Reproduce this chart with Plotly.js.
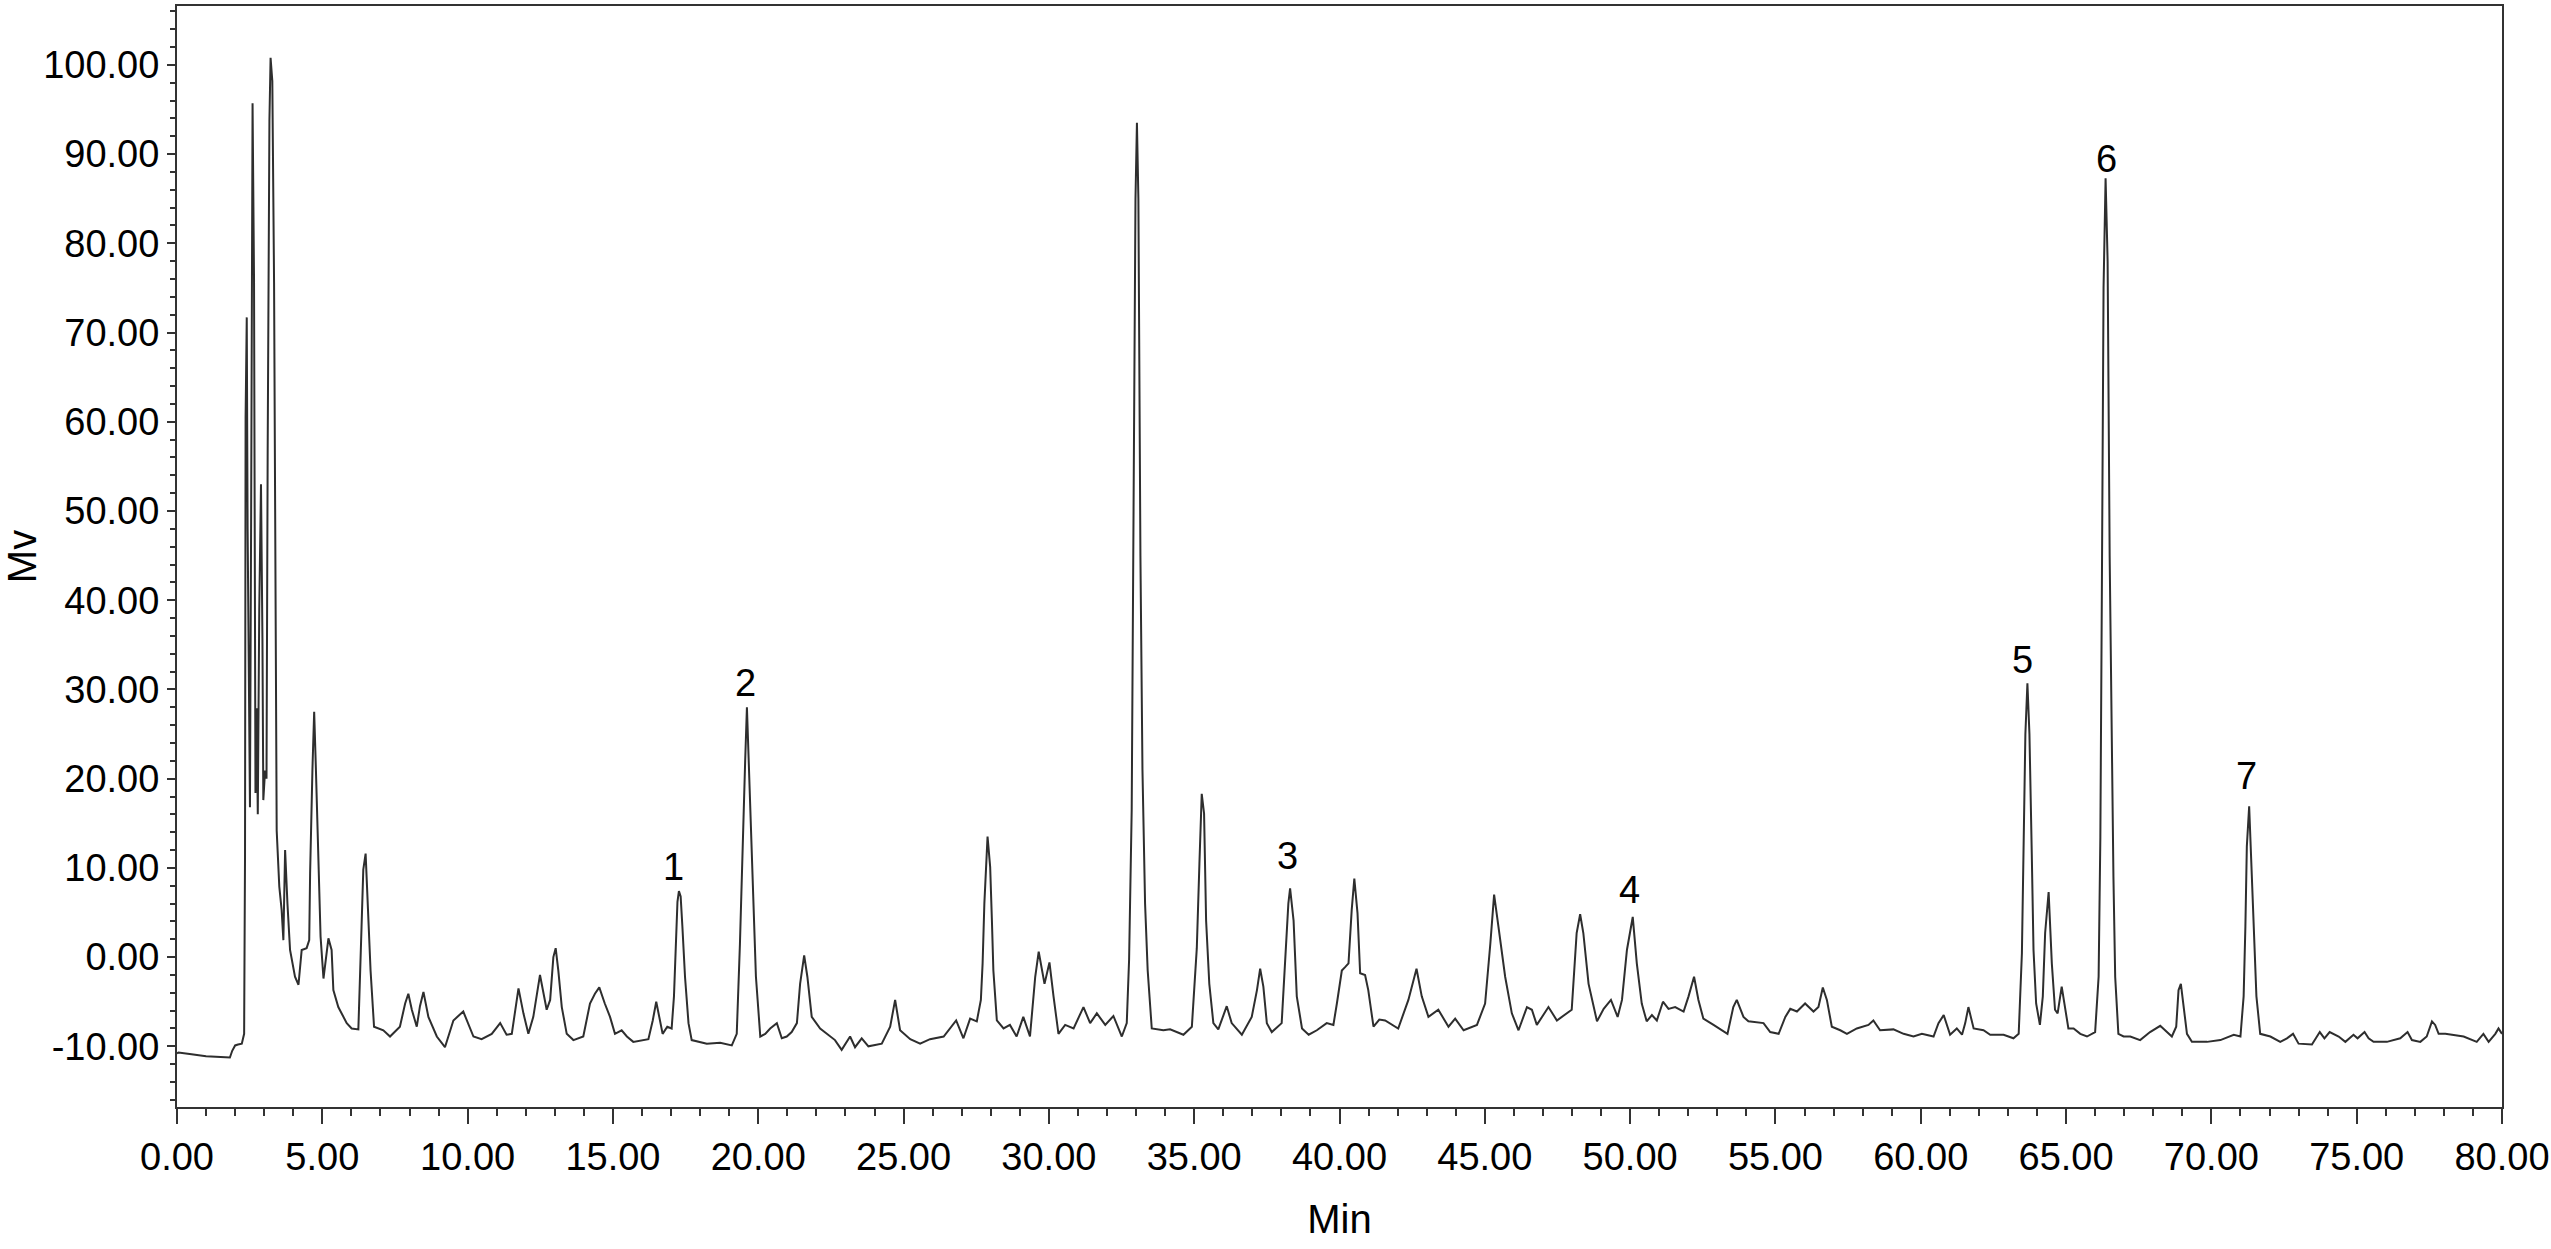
<!DOCTYPE html>
<html>
<head>
<meta charset="utf-8">
<script src="https://cdn.plot.ly/plotly-3.0.1.min.js"></script>
<style>
  html, body { margin: 0; padding: 0; background: #ffffff; }
  #chart { width: 2551px; height: 1249px; }
</style>
</head>
<body>
<div id="chart"></div>
<script>
// Retention time (min)
const timeMin = [
  0.00, 0.05, 0.5, 1.0, 1.5, 1.82, 1.9, 2.0, 2.1, 2.23, 2.31, 2.34,
  2.36, 2.40, 2.43, 2.48, 2.51, 2.55, 2.60, 2.65, 2.70, 2.74, 2.78, 2.83,
  2.89, 2.94, 2.97, 3.03, 3.08, 3.12, 3.18, 3.22, 3.28, 3.34, 3.39, 3.43,
  3.52, 3.60, 3.66, 3.72, 3.80, 3.89, 4.06, 4.18, 4.29, 4.46, 4.55, 4.58,
  4.66, 4.72, 4.78, 4.86, 4.94, 5.04, 5.13, 5.21, 5.32, 5.38, 5.55, 5.84,
  6.01, 6.24, 6.35, 6.41, 6.49, 6.58, 6.66, 6.78, 7.10, 7.33, 7.67, 7.85,
  7.96, 8.08, 8.25, 8.36, 8.48, 8.65, 8.94, 9.22, 9.51, 9.85, 10.2, 10.48,
  10.83, 11.12, 11.34, 11.52, 11.65, 11.75, 11.92, 12.09, 12.26, 12.49, 12.72, 12.84,
  12.95, 13.03, 13.12, 13.24, 13.41, 13.64, 13.98, 14.21, 14.38, 14.53, 14.72, 14.9,
  15.07, 15.3, 15.48, 15.7, 16.22, 16.37, 16.49, 16.6, 16.71, 16.87, 17.02, 17.1,
  17.17, 17.22, 17.27, 17.33, 17.39, 17.48, 17.6, 17.71, 18.23, 18.69, 19.09, 19.26,
  19.37, 19.47, 19.55, 19.61, 19.67, 19.74, 19.83, 19.92, 20.07, 20.24, 20.41, 20.64,
  20.81, 20.98, 21.15, 21.33, 21.44, 21.58, 21.69, 21.84, 22.13, 22.36, 22.64, 22.87,
  23.16, 23.33, 23.56, 23.79, 24.25, 24.54, 24.71, 24.88, 25.23, 25.57, 25.91, 26.38,
  26.6, 26.81, 27.06, 27.29, 27.52, 27.66, 27.72, 27.78, 27.89, 27.98, 28.04, 28.09,
  28.21, 28.44, 28.66, 28.89, 29.12, 29.35, 29.53, 29.65, 29.85, 30.02, 30.16, 30.33,
  30.56, 30.85, 31.19, 31.42, 31.65, 31.94, 32.22, 32.51, 32.68, 32.76, 32.85, 32.90,
  32.98, 33.03, 33.08, 33.15, 33.22, 33.31, 33.40, 33.54, 33.94, 34.17, 34.63, 34.92,
  35.09, 35.18, 35.26, 35.34, 35.41, 35.52, 35.66, 35.83, 36.01, 36.12, 36.29, 36.64,
  36.98, 37.16, 37.27, 37.38, 37.5, 37.67, 38.01, 38.13, 38.24, 38.3, 38.42, 38.53,
  38.71, 38.94, 39.22, 39.56, 39.79, 39.91, 40.08, 40.2, 40.31, 40.42, 40.51, 40.62,
  40.71, 40.88, 40.99, 41.17, 41.37, 41.57, 42.02, 42.37, 42.65, 42.83, 43.06, 43.4,
  43.75, 43.98, 44.27, 44.73, 45.01, 45.19, 45.32, 45.47, 45.7, 45.93, 46.16, 46.45,
  46.62, 46.79, 47.19, 47.48, 47.82, 47.99, 48.16, 48.28, 48.39, 48.57, 48.86, 49.09,
  49.34, 49.57, 49.72, 49.89, 50.09, 50.23, 50.4, 50.57, 50.75, 50.92, 51.13, 51.32,
  51.55, 51.84, 52.01, 52.2, 52.35, 52.52, 52.87, 53.15, 53.35, 53.55, 53.67, 53.9,
  54.07, 54.59, 54.82, 55.11, 55.34, 55.51, 55.74, 56.02, 56.31, 56.48, 56.63, 56.77,
  56.94, 57.23, 57.46, 57.8, 58.2, 58.37, 58.6, 59.06, 59.41, 59.75, 60.04, 60.44,
  60.61, 60.79, 61.01, 61.24, 61.42, 61.53, 61.64, 61.82, 62.16, 62.39, 62.85, 63.19,
  63.37, 63.48, 63.54, 63.6, 63.67, 63.74, 63.82, 63.88, 63.97, 64.1, 64.2, 64.28,
  64.4, 64.51, 64.62, 64.71, 64.85, 64.97, 65.08, 65.26, 65.49, 65.72, 66.0, 66.12,
  66.18, 66.23, 66.29, 66.36, 66.43, 66.5, 66.57, 66.63, 66.69, 66.8, 66.98, 67.21,
  67.55, 67.89, 68.24, 68.64, 68.79, 68.87, 68.95, 69.04, 69.16, 69.33, 69.85, 70.31,
  70.77, 71.0, 71.11, 71.17, 71.22, 71.3, 71.37, 71.45, 71.55, 71.68, 72.03, 72.37,
  72.6, 72.81, 73.0, 73.46, 73.73, 73.89, 74.07, 74.38, 74.61, 74.89, 75.03, 75.27,
  75.41, 75.58, 76.04, 76.5, 76.75, 76.9, 77.19, 77.41, 77.59, 77.7, 77.82, 78.05,
  78.68, 79.13, 79.36, 79.54, 79.77, 79.88, 80.0
];

// Detector signal (mV)
const signalMv = [
  -10.8, -10.7, -10.9, -11.1, -11.2, -11.25, -10.5, -9.9, -9.8, -9.7, -8.6, 11.1,
  60.4, 71.7, 48.0, 24.2, 16.8, 48.8, 95.7, 76.0, 18.4, 27.9, 16.0, 39.0,
  53.0, 35.7, 17.6, 20.9, 20.0, 57.0, 93.7, 100.8, 98.2, 75.6, 38.2, 14.2,
  7.9, 5.3, 1.9, 12.0, 6.0, 0.8, -2.2, -3.1, 0.8, 1.0, 1.9, 9.4,
  21.0, 27.5, 21.0, 10.5, 2.3, -2.4, 0.0, 2.1, 0.8, -3.7, -5.6, -7.4,
  -8.0, -8.1, 3.4, 9.8, 11.6, 4.1, -1.5, -7.8, -8.2, -8.9, -7.8, -5.2,
  -4.1, -5.9, -7.8, -5.5, -3.9, -6.7, -8.9, -10.1, -7.1, -6.1, -8.9, -9.2,
  -8.6, -7.4, -8.7, -8.6, -6.0, -3.5, -6.3, -8.6, -6.7, -2.0, -5.9, -4.8,
  0.0, 1.0, -1.5, -5.6, -8.6, -9.3, -8.9, -5.2, -4.1, -3.4, -5.2, -6.7,
  -8.6, -8.2, -8.9, -9.5, -9.2, -7.1, -5.0, -6.7, -8.6, -7.8, -8.0, -4.4,
  1.2, 6.2, 7.4, 6.8, 3.4, -2.2, -7.4, -9.3, -9.7, -9.6, -9.9, -8.6,
  1.5, 13.9, 22.0, 28.0, 22.0, 13.5, 4.9, -2.2, -8.9, -8.6, -8.0, -7.4,
  -9.1, -8.9, -8.4, -7.4, -3.0, 0.2, -2.2, -6.7, -8.0, -8.6, -9.3, -10.4,
  -8.9, -10.1, -9.1, -10.0, -9.7, -7.8, -4.8, -8.2, -9.2, -9.7, -9.2, -8.9,
  -8.0, -7.1, -9.1, -6.9, -7.2, -4.8, -0.7, 6.0, 13.5, 10.1, 4.1, -1.5,
  -7.1, -8.0, -7.6, -8.9, -6.7, -8.9, -2.2, 0.6, -3.0, -0.6, -4.4, -8.6,
  -7.6, -8.0, -5.6, -7.4, -6.3, -7.6, -6.6, -8.9, -7.4, -0.3, 16.5, 40.0,
  85.0, 93.5, 85.0, 45.0, 21.0, 6.0, -1.5, -8.0, -8.2, -8.1, -8.7, -7.8,
  1.0, 10.5, 18.3, 16.1, 4.1, -3.0, -7.4, -8.1, -6.5, -5.5, -7.4, -8.7,
  -6.7, -3.7, -1.3, -3.3, -7.4, -8.4, -7.4, 0.4, 6.0, 7.7, 4.1, -4.4,
  -8.0, -8.7, -8.2, -7.4, -7.6, -5.2, -1.5, -1.1, -0.7, 5.3, 8.8, 4.9,
  -1.8, -2.0, -3.7, -7.8, -7.0, -7.1, -8.0, -4.8, -1.3, -4.4, -6.7, -5.9,
  -7.8, -6.9, -8.2, -7.6, -5.2, 1.5, 7.0, 3.4, -2.2, -6.3, -8.2, -5.6,
  -5.9, -7.6, -5.6, -7.1, -6.3, -5.9, 2.7, 4.8, 2.7, -3.0, -7.2, -5.8,
  -4.8, -6.7, -4.8, 0.8, 4.5, -0.7, -5.2, -7.2, -6.5, -7.1, -5.0, -5.8,
  -5.6, -6.1, -4.4, -2.2, -4.8, -6.9, -7.6, -8.2, -8.6, -5.6, -4.8, -6.7,
  -7.2, -7.4, -8.4, -8.6, -6.7, -5.8, -6.1, -5.2, -6.1, -5.6, -3.4, -4.8,
  -7.8, -8.2, -8.6, -8.0, -7.6, -7.1, -8.2, -8.1, -8.6, -8.9, -8.6, -8.9,
  -7.4, -6.5, -8.7, -8.0, -8.7, -7.4, -5.6, -8.0, -8.2, -8.7, -8.7, -9.1,
  -8.6, 0.4, 12.7, 25.0, 30.7, 25.0, 11.6, 0.8, -5.2, -7.6, -4.4, 2.7,
  7.3, -0.7, -5.9, -6.3, -3.3, -5.9, -8.0, -8.0, -8.6, -8.9, -8.4, -2.2,
  13.5, 40.0, 75.0, 87.3, 78.0, 45.0, 22.0, 9.0, -2.2, -8.6, -8.9, -8.9,
  -9.3, -8.4, -7.7, -8.9, -7.8, -3.7, -3.0, -5.2, -8.6, -9.5, -9.5, -9.3,
  -8.7, -8.9, -4.4, 3.4, 12.4, 16.9, 11.2, 2.7, -4.4, -8.6, -8.9, -9.5,
  -9.1, -8.6, -9.7, -9.8, -8.4, -9.1, -8.4, -8.9, -9.5, -8.7, -9.1, -8.4,
  -9.1, -9.5, -9.5, -9.1, -8.4, -9.3, -9.5, -8.9, -7.2, -7.6, -8.6, -8.6,
  -8.9, -9.5, -8.6, -9.5, -8.6, -8.0, -8.6
];

// Peak labels
const peakLabels = ["1", "2", "3", "4", "5", "6", "7"];
const peakLabelTime = [17.1, 19.55, 38.2, 49.97, 63.5, 66.4, 71.2];
const peakLabelLevel = [10.1, 30.7, 11.3, 7.5, 33.3, 89.5, 20.3];

// Axis ticks
const xTickVals = [0, 5, 10, 15, 20, 25, 30, 35, 40, 45, 50, 55, 60, 65, 70, 75, 80];
const yTickVals = [-10, 0, 10, 20, 30, 40, 50, 60, 70, 80, 90, 100];

const FONT = '"Liberation Sans", Arial, Helvetica, sans-serif';

const trace = {
  x: timeMin,
  y: signalMv,
  type: 'scatter',
  mode: 'lines',
  line: { color: '#2e2e2e', width: 2 },
  hoverinfo: 'skip',
  showlegend: false
};

const annotations = peakLabels.map((t, i) => ({
  x: peakLabelTime[i],
  y: peakLabelLevel[i],
  xref: 'x', yref: 'y',
  text: t,
  showarrow: false,
  xanchor: 'center', yanchor: 'middle',
  font: { family: FONT, size: 38, color: '#000000' }
}));

const layout = {
  width: 2551,
  height: 1249,
  paper_bgcolor: '#ffffff',
  plot_bgcolor: '#ffffff',
  margin: { l: 177, r: 49, t: 6, b: 142, pad: 0 },
  font: { family: FONT, color: '#000000' },
  showlegend: false,
  xaxis: {
    range: [0, 80],
    tickvals: xTickVals,
    ticktext: xTickVals.map(v => v.toFixed(2)),
    ticks: 'outside',
    ticklen: 15,
    tickwidth: 2,
    tickcolor: '#333333',
    minor: { dtick: 1, tick0: 0, ticks: 'outside', ticklen: 7, tickwidth: 2, tickcolor: '#333333', showgrid: false },
    showline: true,
    linecolor: '#333333',
    linewidth: 2,
    mirror: true,
    showgrid: false,
    zeroline: false,
    tickfont: { family: FONT, size: 38, color: '#000000' },
    title: { text: 'Min', font: { family: FONT, size: 40, color: '#000000' }, standoff: 28 }
  },
  yaxis: {
    range: [-16.8, 106.6],
    tickvals: yTickVals,
    ticktext: yTickVals.map(v => v.toFixed(2)),
    ticks: 'outside',
    ticklen: 8,
    tickwidth: 2,
    tickcolor: '#333333',
    minor: { dtick: 2, tick0: 0, ticks: 'outside', ticklen: 5, tickwidth: 2, tickcolor: '#333333', showgrid: false },
    showline: true,
    linecolor: '#333333',
    linewidth: 2,
    mirror: true,
    showgrid: false,
    zeroline: false,
    tickfont: { family: FONT, size: 38, color: '#000000' },
    title: { text: 'Mv', font: { family: FONT, size: 40, color: '#000000' }, standoff: 0 }
  },
  annotations: annotations
};

Plotly.newPlot('chart', [trace], layout, { displayModeBar: false, staticPlot: true });
</script>
</body>
</html>
